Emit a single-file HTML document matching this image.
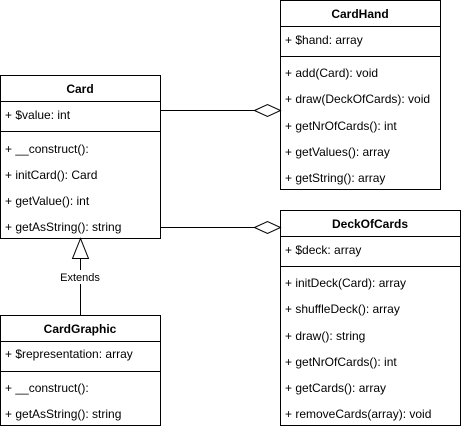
<!DOCTYPE html>
<html><head><style>
body{margin:0;background:#fff;width:461px;height:431px;overflow:hidden}
svg{font-family:"Liberation Sans",Arial,sans-serif;font-size:12px}
</style></head><body>
<svg width="461" height="431" xmlns="http://www.w3.org/2000/svg">
<g fill="#fff" stroke="#000" stroke-width="1">
<rect x="280.5" y="0.5" width="160" height="189"/>
<line x1="280.5" y1="26.5" x2="440.5" y2="26.5"/>
<line x1="280.5" y1="56.5" x2="440.5" y2="56.5"/>
<rect x="0.5" y="75.5" width="160" height="163"/>
<line x1="0.5" y1="101.5" x2="160.5" y2="101.5"/>
<line x1="0.5" y1="131.5" x2="160.5" y2="131.5"/>
<rect x="280.5" y="210.5" width="180" height="215"/>
<line x1="280.5" y1="236.5" x2="460.5" y2="236.5"/>
<line x1="280.5" y1="266.5" x2="460.5" y2="266.5"/>
<rect x="0.5" y="315.5" width="160" height="110"/>
<line x1="0.5" y1="341.5" x2="160.5" y2="341.5"/>
<line x1="0.5" y1="371.5" x2="160.5" y2="371.5"/>
<line x1="160.5" y1="110.5" x2="254.5" y2="110.5"/>
<polygon points="254.5,110.5 267.5,104.5 280.5,110.5 267.5,116.5"/>
<line x1="160.5" y1="227.5" x2="254.5" y2="227.5"/>
<polygon points="254.5,227.5 267.5,221.5 280.5,227.5 267.5,233.5"/>
<line x1="80.5" y1="258.5" x2="80.5" y2="315.5"/>
<polygon points="80.5,238.5 72.5,258.5 88.5,258.5"/>
</g>
<rect x="58" y="270" width="46" height="14" fill="#fff"/>
<text x="80" y="281" text-anchor="middle" font-size="11">Extends</text>
<g font-weight="bold" text-anchor="middle">
<text x="360" y="18">CardHand</text>
<text x="80" y="93">Card</text>
<text x="370" y="228">DeckOfCards</text>
<text x="80" y="333">CardGraphic</text>
</g>
<g>
<text x="285" y="44">+ $hand: array</text>
<text x="285" y="77">+ add(Card): void</text>
<text x="285" y="103">+ draw(DeckOfCards): void</text>
<text x="285" y="130">+ getNrOfCards(): int</text>
<text x="285" y="156">+ getValues(): array</text>
<text x="285" y="182">+ getString(): array</text>
<text x="5" y="119">+ $value: int</text>
<text x="5" y="153">+ __construct():</text>
<text x="5" y="179">+ initCard(): Card</text>
<text x="5" y="205">+ getValue(): int</text>
<text x="5" y="231">+ getAsString(): string</text>
<text x="285" y="254">+ $deck: array</text>
<text x="285" y="287">+ initDeck(Card): array</text>
<text x="285" y="313">+ shuffleDeck(): array</text>
<text x="285" y="340">+ draw(): string</text>
<text x="285" y="366">+ getNrOfCards(): int</text>
<text x="285" y="392">+ getCards(): array</text>
<text x="285" y="418">+ removeCards(array): void</text>
<text x="5" y="358">+ $representation: array</text>
<text x="5" y="392">+ __construct():</text>
<text x="5" y="418">+ getAsString(): string</text>
</g>
</svg>
</body></html>
